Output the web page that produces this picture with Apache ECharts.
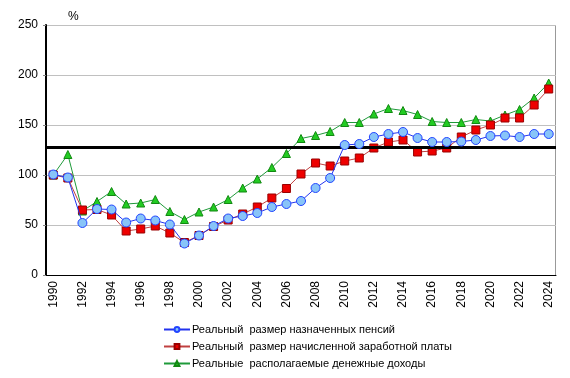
<!DOCTYPE html>
<html><head><meta charset="utf-8">
<script src="https://cdn.jsdelivr.net/npm/echarts@6/dist/echarts.min.js"></script>
<style>html,body{margin:0;padding:0;background:#fff}#c{width:570px;height:378px}</style>
</head><body><div id="c"></div>
<script>
const years = ['1990','1991','1992','1993','1994','1995','1996','1997','1998','1999','2000','2001','2002','2003','2004','2005','2006','2007','2008','2009','2010','2011','2012','2013','2014','2015','2016','2017','2018','2019','2020','2021','2022','2023','2024'];
const pensions = [100.5,97.5,52,66,65.5,52.5,56.5,54.5,50.5,31.5,39.5,49,56.5,59,62,68,71,74,87,97,130,131,138,141,143,137,133,133,133.5,135,139,139.5,138,141,141];
const wages = [100,97,65,65.5,60,44,46,49,42,32.5,39.5,48.5,55,61,68,77,86.5,101,112,109,114,117,127,133,135,123,124,127,138,145,150,157,157,170,186];
const incomes = [100,120.5,64,73.5,83.5,71,72,75.5,63.5,55.5,63,68,75.5,87,96,107.5,121.5,136.5,139.5,143.5,152.5,152.5,161,166.5,164.5,160.5,153.5,152.5,152.5,155.5,154,160,165.5,177,192];
const refLevel = 127.5;
const yTicks = {min:0, max:250, interval:50};
const names = ['Реальный  размер назначенных пенсий','Реальный  размер начисленной заработной платы','Реальные  располагаемые денежные доходы'];

const font = 'Liberation Sans, Arial, sans-serif';
const chart = echarts.init(document.getElementById('c'));
chart.setOption({
  animation:false,
  title:{text:'%', left:63, top:6, textStyle:{fontFamily:font, fontSize:12, fontWeight:'normal', color:'#000'}},
  grid:{left:46, right:14, top:25, bottom:103},
  legend:{orient:'vertical', left:158, top:319, itemGap:6, itemWidth:26, itemHeight:6,
    textStyle:{fontFamily:font, fontSize:11, color:'#000', padding:[0,0,0,-3]}, data:names},
  xAxis:{type:'category', data:years, boundaryGap:true,
    axisLine:{lineStyle:{color:'#000', width:1}}, axisTick:{show:false},
    axisLabel:{rotate:90, interval:1, fontFamily:font, fontSize:12, color:'#000', margin:6},
    splitLine:{show:false}},
  yAxis:{type:'value', min:yTicks.min, max:yTicks.max, interval:yTicks.interval,
    axisLine:{show:true, lineStyle:{color:'#000', width:2}}, axisTick:{show:true, length:3, lineStyle:{color:'#888'}},
    axisLabel:{fontFamily:font, fontSize:12, color:'#000', margin:8},
    splitLine:{lineStyle:{color:'#c0c0c0', width:1}}},
  graphic:[{type:'line', shape:{x1:555.5, y1:25, x2:555.5, y2:275}, style:{stroke:'#999', lineWidth:1}}],
  series:[
    {name:names[2], type:'line', data:incomes, symbol:'triangle', symbolSize:8, showAllSymbol:true,
      lineStyle:{color:'#1f9a3a', width:1}, itemStyle:{color:'#22cc22', borderColor:'#118811', borderWidth:1}, z:3},
    {name:names[1], type:'line', data:wages, symbol:'rect', symbolSize:8, showAllSymbol:true,
      lineStyle:{color:'#c04040', width:1}, itemStyle:{color:'#ee0000', borderColor:'#990000', borderWidth:1}, z:4},
    {name:names[0], type:'line', data:pensions, symbol:'circle', symbolSize:9, showAllSymbol:true,
      lineStyle:{color:'#2233ee', width:1}, itemStyle:{color:'#88c4f8', borderColor:'#2244ff', borderWidth:1}, z:5,
      markLine:{silent:true, symbol:'none', label:{show:false}, lineStyle:{color:'#000', width:3, type:'solid'},
        data:[{yAxis:refLevel}]}}
  ]
});
</script></body></html>
